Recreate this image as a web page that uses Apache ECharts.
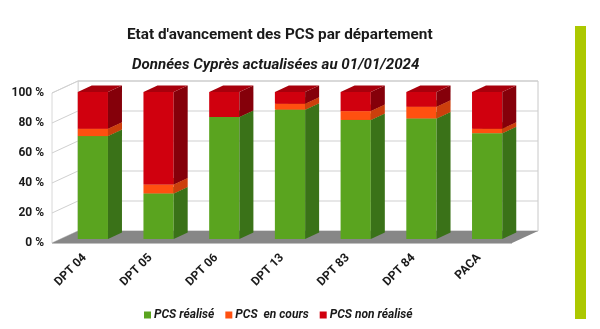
<!DOCTYPE html>
<html><head><meta charset="utf-8">
<script src="https://cdn.jsdelivr.net/npm/echarts@6/dist/echarts.min.js"></script>
<style>html,body{margin:0;padding:0;background:#fff}#c{width:600px;height:329px}</style>
</head><body><div id="c"></div>
<script>
const categories = ['DPT 04','DPT 05','DPT 06','DPT 13','DPT 83','DPT 84','PACA'];
const realise    = [70, 31, 83, 88, 81, 82, 72];
const enCours    = [5, 6, 0, 4, 6, 8, 3];
const nonRealise = [25, 63, 17, 8, 13, 10, 25];
const yTicks = [0, 20, 40, 60, 80, 100];
const seriesNames = ['PCS réalisé', 'PCS  en cours', 'PCS non réalisé'];

const DEPTH_X = 26, DEPTH_Y = 12;       // wall depth
const BAR_OX = 8, BAR_OY = 4;           // bar front plane offset
const BAR_DX = 14, BAR_DY = 6.5;        // bar depth
const FONT = 'Roboto, "Liberation Sans", sans-serif';

const palettes = [
  {front:'#5aa41f', side:'#3a7218', top:'#4a8c19'},
  {front:'#ff5010', side:'#cc3f0c', top:'#e0460e'},
  {front:'#d0000e', side:'#85000a', top:'#a8000c'}
];

function makeBarRenderer(pal){
  return function(params, api){
    const cat = api.value(0), base = api.value(1), val = api.value(2);
    if (!val) return {type:'group', children:[]};
    const p0 = api.coord([cat, 0]);
    const pb = api.coord([cat, base]);
    const pt = api.coord([cat, base + val]);
    const bw = api.size([1, 0])[0] * 0.46;
    const fy = y => p0[1] - BAR_OY + (y - p0[1]) * 0.98;
    const xl = p0[0] + BAR_OX - bw/2, xr = xl + bw;
    const yb = fy(pb[1]), yt = fy(pt[1]);
    return {type:'group', children:[
      {type:'rect', shape:{x:xl, y:yt, width:bw, height:yb-yt}, style:{fill:pal.front}},
      {type:'polygon', shape:{points:[[xr,yb],[xr+BAR_DX,yb-BAR_DY],[xr+BAR_DX,yt-BAR_DY],[xr,yt]]}, style:{fill:pal.side}},
      {type:'polygon', shape:{points:[[xl,yt],[xr,yt],[xr+BAR_DX,yt-BAR_DY],[xl+BAR_DX,yt-BAR_DY]]}, style:{fill:pal.top}}
    ]};
  };
}

function renderWalls(params, api){
  const cs = params.coordSys;
  const x = cs.x, y = cs.y, w = cs.width, h = cs.height;
  const ch = [];
  ch.push({type:'rect', shape:{x:x+DEPTH_X, y:y-DEPTH_Y, width:w, height:h}, style:{fill:'#fff', stroke:'#c8c8c8', lineWidth:1}});
  ch.push({type:'polygon', shape:{points:[[x,y+h],[x,y],[x+DEPTH_X,y-DEPTH_Y],[x+DEPTH_X,y+h-DEPTH_Y]]}, style:{fill:'#fff', stroke:'#d8d8d8', lineWidth:1}});
  yTicks.forEach(v => {
    const yy = api.coord([0, v])[1];
    ch.push({type:'line', shape:{x1:x, y1:yy, x2:x+DEPTH_X, y2:yy-DEPTH_Y}, style:{stroke:'#d0d0d0', lineWidth:1}});
    ch.push({type:'line', shape:{x1:x+DEPTH_X, y1:yy-DEPTH_Y, x2:x+DEPTH_X+w, y2:yy-DEPTH_Y}, style:{stroke:'#cfcfcf', lineWidth:1}});
  });
  ch.push({type:'polygon', shape:{points:[[x,y+h],[x+w,y+h],[x+w+DEPTH_X,y+h-DEPTH_Y],[x+DEPTH_X,y+h-DEPTH_Y]]}, style:{fill:'#878787'}});
  ch.push({type:'line', shape:{x1:x, y1:y+h+0.5, x2:x+w, y2:y+h+0.5}, style:{stroke:'#c0c0c0', lineWidth:1}});
  return {type:'group', children:ch};
}

const stacks = [realise, enCours, nonRealise];
const series = [{
  type:'custom', name:'walls', renderItem: renderWalls, data:[[0,0,0]], encode:{x:0,y:2}, silent:true, z:1
}];
stacks.forEach((arr, s) => {
  series.push({
    type:'custom', name: seriesNames[s], z: 2 + s,
    itemStyle:{color: palettes[s].front},
    renderItem: makeBarRenderer(palettes[s]),
    encode:{x:0, y:2},
    data: arr.map((v, i) => {
      let base = 0;
      for (let k = 0; k < s; k++) base += stacks[k][i];
      return [i, base, v];
    })
  });
});

const chart = echarts.init(document.getElementById('c'), null, {renderer:'canvas'});
chart.setOption({
  animation:false,
  backgroundColor:'#fff',
  title:[
    {text:"Etat d'avancement des PCS par département", left:122, top:23,
     textStyle:{fontFamily:FONT, fontSize:15.3, fontWeight:'bold', color:'#1a1a1a'}},
    {text:'Données Cyprès actualisées au 01/01/2024', left:127, top:53,
     textStyle:{fontFamily:FONT, fontSize:15.1, fontWeight:'bold', fontStyle:'italic', color:'#1a1a1a'}}
  ],
  grid:{left:52, right:88, top:93, bottom:86, containLabel:false},
  xAxis:{type:'category', data:categories,
    axisLine:{show:false}, axisTick:{show:false}, splitLine:{show:false},
    axisLabel:{rotate:45, margin:13, fontFamily:FONT, fontSize:12, fontWeight:'bold', color:'#1a1a1a', interval:0}},
  yAxis:{type:'value', min:0, max:100, interval:20,
    axisLine:{show:false}, axisTick:{show:false}, splitLine:{show:false},
    axisLabel:{formatter:'{value} %', margin:8, fontFamily:FONT, fontSize:12, fontWeight:'bold', color:'#1a1a1a'}},
  legend:{data:seriesNames, left:139, top:304, icon:'rect', itemWidth:7, itemHeight:7, itemGap:11,
    textStyle:{fontFamily:FONT, fontSize:12, fontWeight:'bold', fontStyle:'italic', color:'#1a1a1a', padding:[0,0,0,-2]}},
  graphic:[{type:'rect', left:575, top:26, shape:{width:11, height:293}, style:{fill:'#acc800'}, silent:true}],
  series: series
});
</script></body></html>
